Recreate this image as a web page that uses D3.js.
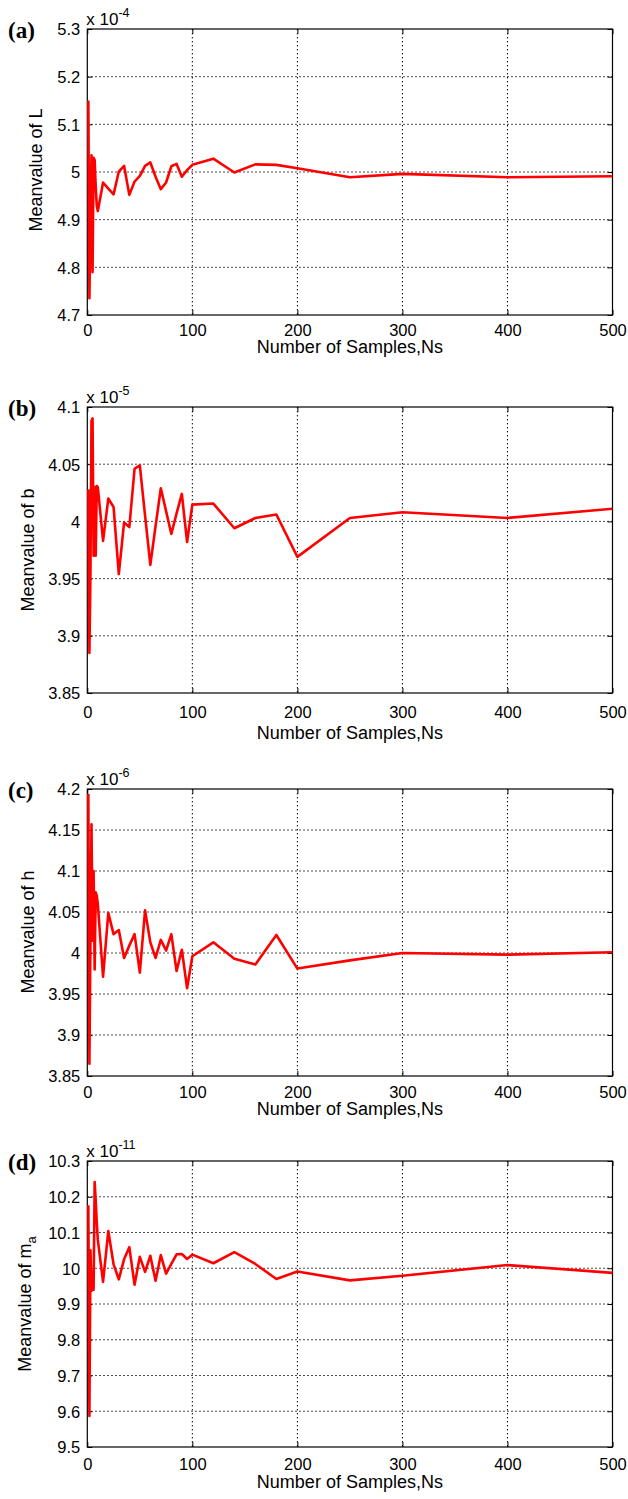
<!DOCTYPE html>
<html><head><meta charset="utf-8">
<script src="https://cdn.jsdelivr.net/npm/d3@7"></script>
<style>body{margin:0;background:#fff} svg{display:block}</style>
</head><body><svg id="c" width="628" height="1499"></svg>
<script>
// ---- data ----
const ns = [1,2,3,4,5,6,7,8,9,10,15,20,25,30,35,40,45,50,55,60,65,70,75,80,85,90,95,100,120,140,160,180,200,250,300,400,500];
// mean value of L (x 1e-4)
const meanL = [5.15,4.735,4.90,5.035,4.79,5.03,5.025,4.97,4.93,4.918,
  4.978,4.965,4.953,5.001,5.013,4.952,4.980,4.992,5.013,5.020,4.99,4.964,4.978,5.012,5.017,4.990,5.004,5.015,
  5.028,4.999,5.016,5.015,5.008,4.989,4.996,4.989,4.991];
// mean value of b (x 1e-5)
const meanB = [4.028,3.885,3.955,4.088,4.09,3.97,4.03,3.97,4.031,4.03,
  3.983,4.020,4.0125,3.954,3.999,3.995,4.046,4.049,4.005,3.962,3.996,4.029,4.009,3.989,4.007,4.024,3.982,4.0147,
  4.0156,3.994,4.003,4.006,3.969,4.003,4.008,4.003,4.011];
// mean value of h (x 1e-6)
const meanH = [4.194,3.865,4.02,4.157,4.015,4.10,3.98,4.074,4.07,4.06,
  3.971,4.049,4.023,4.028,3.994,4.009,4.023,3.976,4.052,4.013,3.994,4.016,4.003,4.023,3.978,4.004,3.957,3.996,
  4.013,3.993,3.986,4.022,3.981,3.991,4.0,3.998,4.001];
// mean value of m_a (x 1e-11)
const meanMa = [10.176,9.587,10.05,9.937,9.99,9.94,10.241,10.19,10.13,10.08,
  9.962,10.104,10.011,9.969,10.025,10.059,9.954,10.032,9.99,10.035,9.965,10.037,9.985,10.012,10.039,10.04,10.026,10.038,
  10.014,10.045,10.012,9.970,9.991,9.966,9.979,10.009,9.987];

const xTicks = [0,100,200,300,400,500];
const xTickLabels = ["0","100","200","300","400","500"];
const yTicksL = [4.7,4.8,4.9,5,5.1,5.2,5.3];
const yTickLabelsL = ["4.7","4.8","4.9","5","5.1","5.2","5.3"];
const yTicksB = [3.85,3.9,3.95,4,4.05,4.1];
const yTickLabelsB = ["3.85","3.9","3.95","4","4.05","4.1"];
const yTicksH = [3.85,3.9,3.95,4,4.05,4.1,4.15,4.2];
const yTickLabelsH = ["3.85","3.9","3.95","4","4.05","4.1","4.15","4.2"];
const yTicksMa = [9.5,9.6,9.7,9.8,9.9,10,10.1,10.2,10.3];
const yTickLabelsMa = ["9.5","9.6","9.7","9.8","9.9","10","10.1","10.2","10.3"];

const panelLetters = ["(a)","(b)","(c)","(d)"];
const yTitles = ["Meanvalue of L","Meanvalue of b","Meanvalue of h","Meanvalue of m"];
const ySubs = ["","","","a"];
const exponents = ["-4","-5","-6","-11"];
const xTitle = "Number of Samples,Ns";

// ---- layout (positions only) ----
const SANS = '"Liberation Sans", Arial, sans-serif';
const SERIF = '"Liberation Serif", "Times New Roman", serif';
const L = 87.3, R = 612.5;
const layout = [
  {top:29,   bottom:315,  yTitleX:42, midY:170, tickOff:0, titleOff:0},
  {top:407,  bottom:693,  yTitleX:34, midY:550, tickOff:4, titleOff:8},
  {top:789,  bottom:1076, yTitleX:34, midY:932, tickOff:1, titleOff:1},
  {top:1161, bottom:1447, yTitleX:31, midY:1304, tickOff:2, titleOff:3}
];
const series = [meanL, meanB, meanH, meanMa];
const yTicks = [yTicksL, yTicksB, yTicksH, yTicksMa];
const yTickLabels = [yTickLabelsL, yTickLabelsB, yTickLabelsH, yTickLabelsMa];

const svg = d3.select("#c");
const x = d3.scaleLinear().domain([0,500]).range([L,R]);

layout.forEach((lay,i)=>{
  const yt = yTicks[i];
  const y = d3.scaleLinear().domain([yt[0], yt[yt.length-1]]).range([lay.bottom, lay.top]);
  const g = svg.append("g");
  const w = R-L, h = lay.bottom-lay.top;

  // grid
  const grid = g.append("g").attr("stroke","#000").attr("stroke-width",1).attr("stroke-dasharray","1.4,2.6");
  xTicks.slice(1,-1).forEach(v=>{
    grid.append("line").attr("x1",x(v)).attr("x2",x(v)).attr("y1",lay.top).attr("y2",lay.bottom);
  });
  yt.slice(1,-1).forEach(v=>{
    grid.append("line").attr("x1",L).attr("x2",R).attr("y1",y(v)).attr("y2",y(v));
  });

  // axes via d3 (inward ticks)
  const fmtY = (d)=> yTickLabels[i][yt.indexOf(d)];
  const fmtX = (d)=> xTickLabels[xTicks.indexOf(d)];
  const axL = g.append("g").attr("transform",`translate(${L},0)`)
    .call(d3.axisLeft(y).tickValues(yt).tickFormat(fmtY).tickSizeInner(-5).tickSizeOuter(0).tickPadding(7));
  const axR = g.append("g").attr("transform",`translate(${R},0)`)
    .call(d3.axisRight(y).tickValues(yt).tickFormat("").tickSizeInner(-5).tickSizeOuter(0));
  const axB = g.append("g").attr("transform",`translate(0,${lay.bottom})`)
    .call(d3.axisBottom(x).tickValues(xTicks).tickFormat(fmtX).tickSizeInner(-5).tickSizeOuter(0).tickPadding(9+lay.tickOff));
  const axT = g.append("g").attr("transform",`translate(0,${lay.top})`)
    .call(d3.axisTop(x).tickValues(xTicks).tickFormat("").tickSizeInner(-5).tickSizeOuter(0));
  [axL,axR,axB,axT].forEach(a=>{
    a.select(".domain").remove();
    a.selectAll("line").attr("stroke","#000");
    a.selectAll("text").style("font-size","16.5px").style("font-family",SANS).attr("fill","#000");
  });
  axL.selectAll("text").attr("dy","0.36em");
  axB.selectAll("text").attr("dy","0.75em");

  // frame
  g.append("rect").attr("x",L).attr("y",lay.top).attr("width",w).attr("height",h)
    .attr("fill","none").attr("stroke","#000").attr("stroke-width",1.2);

  // line
  const line = d3.line().x((d,k)=>x(ns[k])).y(d=>y(d));
  g.append("path").datum(series[i]).attr("d",line)
    .attr("fill","none").attr("stroke","#ff0000").attr("stroke-width",2.6).attr("stroke-linejoin","round");

  // exponent
  const ex = g.append("text").attr("x",L-1).attr("y",lay.top-4).style("font-family",SANS).style("font-size","17px");
  ex.append("tspan").text("x 10");
  ex.append("tspan").style("font-size","12.5px").attr("dy",-8).text(exponents[i]);

  // panel letter
  g.append("text").attr("x",8).attr("y",lay.top+9)
    .style("font-family",SERIF).style("font-weight","bold")
    .style("font-size","23px").text(panelLetters[i]);

  // y title
  const yt2 = g.append("text").attr("transform",`translate(${lay.yTitleX},${lay.midY}) rotate(-90)`)
    .attr("text-anchor","middle").style("font-family",SANS).style("font-size","18px");
  yt2.append("tspan").text(yTitles[i]);
  if (ySubs[i]) yt2.append("tspan").style("font-size","13px").attr("dy",5).text(ySubs[i]);

  // x title
  g.append("text").attr("x",(L+R)/2).attr("y",lay.bottom+38+lay.titleOff).attr("text-anchor","middle")
    .style("font-family",SANS).style("font-size","18px").text(xTitle);
});
</script></body></html>
